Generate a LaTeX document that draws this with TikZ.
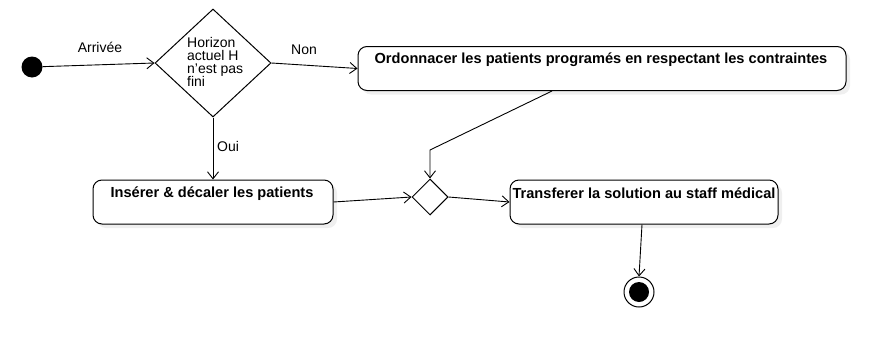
\documentclass[tikz,border=0pt]{standalone}
\usepackage{fontspec}
\setmainfont{Liberation Sans}
\usetikzlibrary{arrows.meta,shapes.geometric,shadows}
\begin{document}
\begin{tikzpicture}[x=1pt,y=-1pt,
  act/.style={draw, rounded corners=9pt, line width=1pt, fill=white, inner sep=0,
    drop shadow={shadow xshift=4pt, shadow yshift=-4pt, opacity=0.12}},
  dec/.style={draw, diamond, line width=1pt, fill=white, inner sep=0},
  lbl/.style={font=\fontsize{14}{16}\selectfont, inner sep=0},
  btxt/.style={font=\fontsize{14.6}{17}\selectfont\bfseries, inner sep=0},
  flow/.style={draw, line width=0.9pt, -{Straight Barb[length=7pt,width=11pt]}}
]
\fill[white] (0,0) rectangle (877,351);
\useasboundingbox (0,0) rectangle (877,351);

% initial and final nodes
\node[circle, fill=black, minimum size=21pt, inner sep=0] (start) at (32,67) {};
\node[circle, draw, line width=1pt, fill=white, minimum size=30pt, inner sep=0] (end) at (639,292) {};
\node[circle, fill=black, minimum size=20pt, inner sep=0] (endin) at (639,292) {};

% decision nodes
\node[dec, minimum width=116pt, minimum height=108pt] (d1) at (213,63) {};
\node[lbl, align=left, anchor=west, font=\fontsize{14}{13.2}\selectfont] (d1t) at (187,62) {Horizon\\actuel H\\n'est pas\\fini};
\node[dec, minimum width=36pt, minimum height=36pt] (d2) at (430,197) {};

% activity boxes
\node[act, minimum width=488pt, minimum height=44pt] (b1) at (602,68.5) {};
\node[btxt] (b1t) at (601,60) {Ordonnacer les patients programés en respectant les contraintes};
\node[act, minimum width=240pt, minimum height=44pt] (b2) at (213,202) {};
\node[btxt] (b2t) at (212,194) {Insérer \& décaler les patients};
\node[act, minimum width=268pt, minimum height=44pt] (b3) at (644,202) {};
\node[btxt] (b3t) at (644,193) {Transferer la solution au staff médical};

% labels
\node[lbl] (arr) at (100,47) {Arrivée};
\node[lbl] (non) at (304,50) {Non};
\node[lbl] (oui) at (228,146) {Oui};

% connectors
\coordinate (b1o) at ([xshift=-50pt]b1.south);
\coordinate (m) at (430,150);
\draw[flow] (start) -- (d1.west);
\draw[flow] (d1.east) -- (b1.west);
\draw[flow] (d1.south) -- (b2.north);
\draw[flow] (b2.east) -- (d2.west);
\draw[flow] (b1o) -- (m) -- (d2.north);
\draw[flow] (d2.east) -- (b3.west);
\draw[flow] ([xshift=-2pt]b3.south) -- (end.north);
\end{tikzpicture}
\end{document}
